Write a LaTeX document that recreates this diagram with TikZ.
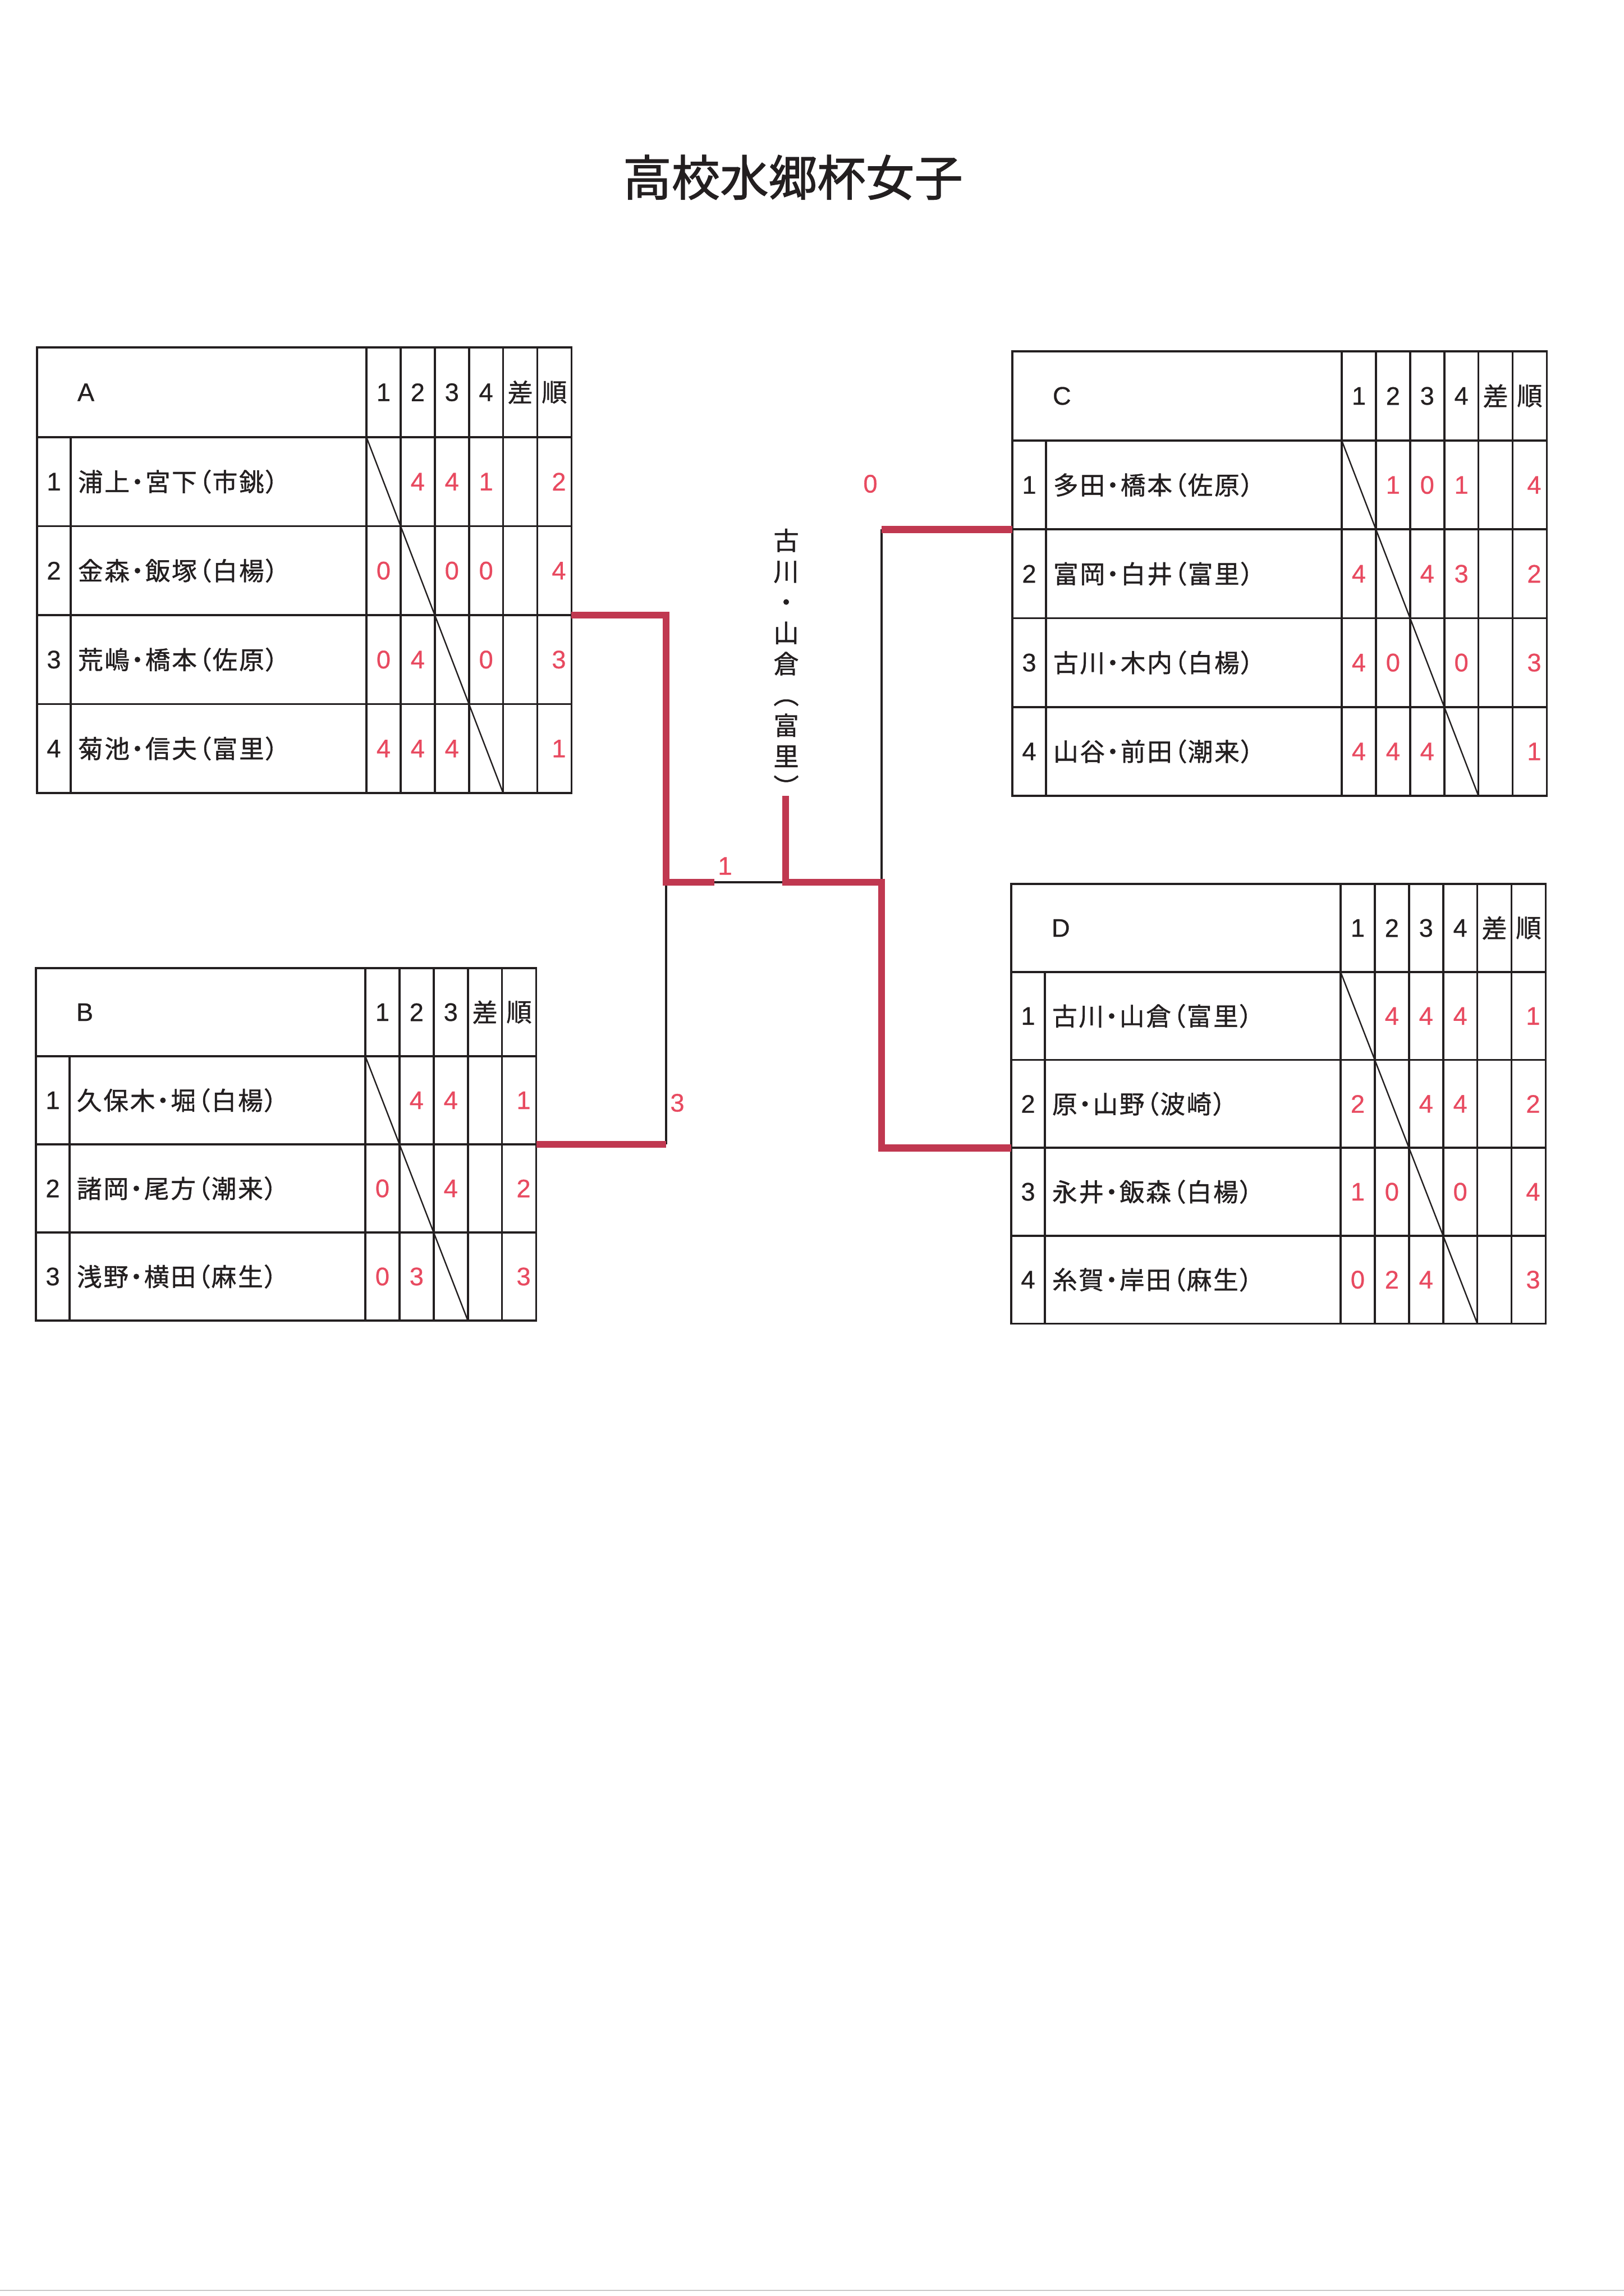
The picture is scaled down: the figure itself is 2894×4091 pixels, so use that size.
\documentclass[tikz,border=0pt]{standalone}
\usepackage{fontspec}
\setmainfont{Liberation Sans}
\newfontfamily\numfam{Liberation Sans}[FakeBold=0.6]
\newfontfamily\jpname{Noto Sans CJK JP}[RawFeature=+palt,LetterSpace=6,FakeBold=0.9]
\newfontfamily\jpfix{Noto Sans CJK JP}[FakeBold=0.9]
\newfontfamily\jptitle{Noto Sans CJK JP}[FakeBold=1.3]
\definecolor{ink}{RGB}{35,31,32}
\definecolor{redln}{RGB}{192,56,80}
\definecolor{redtx}{RGB}{232,74,96}
\newcommand{\namefont}{\jpname\fontsize{9.2}{11}\selectfont}
\newcommand{\kfont}{\jpfix\fontsize{9.3}{11}\selectfont}
\newcommand{\digfont}{\numfam\fontsize{9.3}{10}\selectfont}
\tikzset{
 tline/.style={draw=ink, line width=0.75pt},
 dline/.style={draw=ink, line width=0.5pt},
 bline/.style={draw=ink, line width=0.85pt},
 rline/.style={draw=redln, line width=2.65pt, line join=miter},
 nm/.style={anchor=west, inner sep=0pt, text=ink, font=\namefont},
 hk/.style={inner sep=0pt, text=ink, font=\kfont},
 dg/.style={inner sep=0pt, text=ink, font=\digfont},
 rd/.style={inner sep=0pt, text=redtx, font=\digfont},
 lab/.style={anchor=west, inner sep=0pt, text=ink, font=\digfont},
}
\newcommand{\grpTable}[2]{%
  \pgfmathsetmacro{\gW}{587+(\grpN+2)*60.9}%
  \pgfmathsetmacro{\gHt}{\grpH+\grpN*\grpR}%
  \pgfmathtruncatemacro{\gK}{\grpN+1}%
  \pgfmathsetmacro{\gHc}{\grpH/2}%
  \draw[tline] (0,0) rectangle (\gW,\gHt);
  \draw[tline] (60,\grpH) -- (60,\gHt);
  \foreach \k in {0,...,\gK} {\draw[tline] ({587+\k*60.9},0) -- ({587+\k*60.9},\gHt);}
  \foreach \i in {1,...,\grpN} {\draw[tline] (0,{\grpH+(\i-1)*\grpR}) -- (\gW,{\grpH+(\i-1)*\grpR});}
  \draw[dline] (587,\grpH) -- ({587+\grpN*60.9},\gHt);
  \node[lab] (#1-lab) at (71,\gHc) {#2};
  \foreach \k in {1,...,\grpN} {\node[dg] (#1-h\k) at ({587+(\k-0.5)*60.9},\gHc) {\k};}
  \node[hk] (#1-sa) at ({587+(\grpN+0.5)*60.9},\gHc) {差};
  \node[hk] (#1-ju) at ({587+(\grpN+1.5)*60.9},\gHc) {順};
  \foreach \i in {1,...,\grpN} {
    \node[dg] (#1-n\i) at (30,{\grpH+(\i-0.5)*\grpR}) {\i};
    \coordinate (#1-e\i) at (\gW,{\grpH+\i*\grpR});
    \coordinate (#1-w\i) at (0,{\grpH+\i*\grpR});
  }
}
\newcommand{\plNames}[2]{\foreach \nm [count=\ii] in {#2} {\node[nm] (#1-p\ii) at (72,{\grpH+(\ii-0.5)*\grpR}) {\nm};}}
\newcommand{\scoreRow}[3]{%
  \foreach \v [count=\jj] in {#3} {%
    \if x\v\else
      \pgfmathsetmacro{\sx}{587+(\jj-0.5)*60.9+(\jj>\grpN+1)*8}%
      \node[rd] (#1-s#2-\jj) at (\sx,{\grpH+(#2-0.5)*\grpR}) {\v};
    \fi}}
\begin{document}
\begin{tikzpicture}[x=0.2057pt,y=-0.2057pt]
\useasboundingbox (0,0) rectangle (2894,4091);
\fill[white] (0,0) rectangle (2894,4091);
\draw[black!22, line width=0.45pt] (0,4081) -- (2894,4081);

\node[inner sep=0pt, text=ink, font=\jptitle\fontsize{17.8}{20}\selectfont] (title) at (1413,316) {高校水郷杯女子};

% Group A
\begin{scope}[shift={(66,619)}]
\def\grpH{160}\def\grpR{158.5}\def\grpN{4}
\grpTable{A}{A}
\plNames{A}{浦上・宮下（市銚）,金森・飯塚（白楊）,荒嶋・橋本（佐原）,菊池・信夫（富里）}
\scoreRow{A}{1}{x,4,4,1,x,2}
\scoreRow{A}{2}{0,x,0,0,x,4}
\scoreRow{A}{3}{0,4,x,0,x,3}
\scoreRow{A}{4}{4,4,4,x,x,1}
\end{scope}

% Group B
\begin{scope}[shift={(64,1725)}]
\def\grpH{157}\def\grpR{157}\def\grpN{3}
\grpTable{B}{B}
\plNames{B}{久保木・堀（白楊）,諸岡・尾方（潮来）,浅野・横田（麻生）}
\scoreRow{B}{1}{x,4,4,x,1}
\scoreRow{B}{2}{0,x,4,x,2}
\scoreRow{B}{3}{0,3,x,x,3}
\end{scope}

% Group C
\begin{scope}[shift={(1804,626)}]
\def\grpH{159}\def\grpR{158.25}\def\grpN{4}
\grpTable{C}{C}
\plNames{C}{多田・橋本（佐原）,富岡・白井（富里）,古川・木内（白楊）,山谷・前田（潮来）}
\scoreRow{C}{1}{x,1,0,1,x,4}
\scoreRow{C}{2}{4,x,4,3,x,2}
\scoreRow{C}{3}{4,0,x,0,x,3}
\scoreRow{C}{4}{4,4,4,x,x,1}
\end{scope}

% Group D
\begin{scope}[shift={(1802,1575)}]
\def\grpH{157}\def\grpR{156.6}\def\grpN{4}
\grpTable{D}{D}
\plNames{D}{古川・山倉（富里）,原・山野（波崎）,永井・飯森（白楊）,糸賀・岸田（麻生）}
\scoreRow{D}{1}{x,4,4,4,x,1}
\scoreRow{D}{2}{2,x,4,4,x,2}
\scoreRow{D}{3}{1,0,x,0,x,4}
\scoreRow{D}{4}{0,2,4,x,x,3}
\end{scope}

% bracket
\coordinate (jL) at (1187,1572);
\coordinate (m1) at (1273,1572);
\coordinate (top) at (1400,1572);
\coordinate (jR) at (1571,1572);
\coordinate (win) at (1400,1418);

\draw[bline] (m1) -- (top);
\draw[bline] (jL) -- (jL |- B-e1);
\draw[bline] (jR) -- (jR |- C-w1);

\draw[rline] (A-e2) -| (jL) -- (m1);
\draw[rline] (B-e1) -- (jL |- B-e1);
\draw[rline] (C-w1) -- (jR |- C-w1);
\draw[rline] (win) -- (top) -- (jR) |- (D-w2);

\node[rd] (l1) at (1292,1543) {1};
\node[rd] (l3) at (1207,1965) {3};
\node[rd] (l0) at (1551,862) {0};

\node[inner sep=0pt, text=ink, anchor=north, align=center, font=\jpfix\fontsize{9.3}{11.3}\selectfont] (champ) at (1401,941) {古\\川\\・\\山\\倉\\︵\\富\\里\\︶};
\end{tikzpicture}
\end{document}
